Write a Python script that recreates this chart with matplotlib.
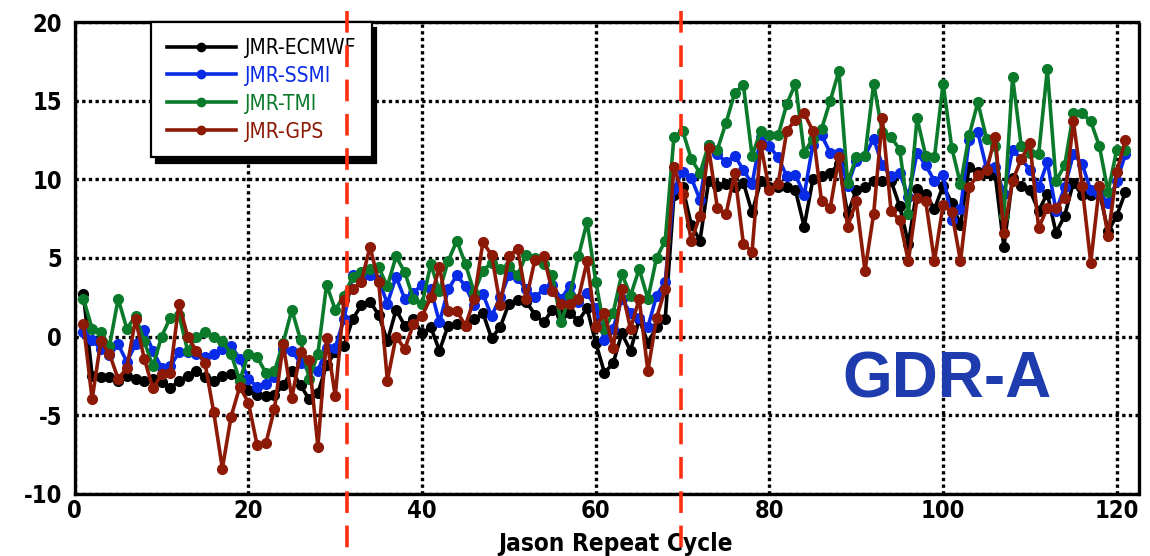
import matplotlib
matplotlib.use("Agg")
import matplotlib.pyplot as plt
from matplotlib.font_manager import FontProperties
import numpy as np

plt.rcParams["axes.unicode_minus"] = False

cycles = np.arange(1, 122)

ecmwf = [2.7, -2.5, -2.6, -2.6, -2.8, -2.5, -2.7, -2.8, -2.7, -2.9,
         -3.3, -2.8, -2.5, -2.2, -2.6, -2.8, -2.5, -2.4, -2.7, -3.4,
         -3.7, -3.8, -3.7, -3.1, -2.2, -3.1, -4.0, -3.6, -1.8, -1.0,
         -0.6, 1.1, 2.0, 2.2, 1.4, -0.3, 1.7, 0.7, 1.1, 0.2,
         0.6, -0.9, 0.7, 0.8, 0.7, 1.1, 1.5, -0.1, 0.6, 2.1,
         2.3, 2.2, 1.4, 0.9, 1.7, 1.4, 1.5, 1.0, 1.8, -0.4,
         -2.3, -1.7, 0.2, -0.9, 1.1, -0.4, 0.6, 1.1, 9.0, 9.5,
         7.1, 6.1, 9.9, 9.6, 9.7, 9.5, 9.8, 7.9, 9.9, 9.5,
         9.5, 9.5, 9.3, 7.0, 10.0, 10.2, 10.4, 11.0, 7.8, 9.3,
         9.5, 9.9, 9.9, 9.9, 8.3, 5.9, 9.4, 9.1, 8.1, 9.6,
         8.5, 7.1, 10.8, 10.5, 10.4, 10.3, 5.7, 10.1, 9.6, 9.3,
         8.0, 9.1, 6.6, 7.7, 9.8, 9.0, 9.0, 9.2, 6.7, 7.7,
         9.2]

ssmi = [0.3, -0.2, -0.8, -1.2, -0.5, -1.6, -0.5, 0.4, -0.9, -2.0,
        -1.9, -1.0, -1.0, -1.1, -1.3, -1.1, -0.8, -0.6, -1.4, -2.7,
        -3.2, -3.0, -2.6, -0.8, -0.9, -1.7, -1.9, -2.2, -0.7, -0.7,
        1.1, 3.9, 3.7, 3.9, 3.6, 2.1, 3.8, 2.4, 2.8, 3.3,
        3.0, 0.9, 3.0, 3.9, 3.2, 2.0, 2.7, 1.3, 2.5, 3.9,
        3.7, 3.0, 2.5, 3.0, 3.3, 2.4, 3.2, 2.2, 2.8, 1.8,
        -0.2, 0.5, 2.4, 1.5, 1.2, 0.6, 2.6, 3.5, 9.4, 10.5,
        10.1, 8.7, 12.2, 11.6, 11.1, 11.5, 10.6, 9.7, 12.7, 12.1,
        11.4, 10.2, 10.3, 9.0, 12.2, 12.8, 11.7, 11.7, 9.6, 11.2,
        11.5, 12.6, 10.9, 10.2, 10.4, 8.9, 11.7, 10.9, 9.9, 10.3,
        7.4, 8.1, 12.5, 13.0, 10.7, 10.8, 9.1, 11.9, 11.3, 10.6,
        9.5, 11.1, 8.0, 9.5, 11.6, 11.0, 9.3, 9.1, 8.5, 9.9,
        11.6]

tmi = [2.4, 0.5, 0.3, -0.6, 2.4, 0.5, 1.3, -0.3, -1.9, 0.0,
       1.2, 1.4, -0.9, 0.0, 0.3, 0.0, -0.3, -1.1, -2.8, -1.1,
       -1.3, -2.3, -2.2, -0.4, 1.7, -0.2, -2.7, -1.1, 3.3, 1.7,
       2.6, 3.8, 4.1, 4.3, 4.4, 3.2, 5.1, 4.1, 2.4, 2.1,
       4.6, 2.9, 4.8, 6.1, 4.6, 2.8, 4.2, 4.7, 4.3, 4.5,
       3.9, 5.2, 5.0, 4.6, 3.9, 0.9, 2.6, 5.1, 7.3, 3.5,
       0.5, 1.5, 4.0, 2.6, 4.3, 2.4, 5.0, 6.1, 12.7, 13.1,
       11.3, 10.4, 12.2, 11.9, 13.6, 15.5, 16.0, 11.5, 13.1, 12.8,
       12.8, 14.8, 16.1, 11.7, 12.6, 13.2, 15.0, 16.9, 9.8, 11.4,
       11.5, 16.1, 13.0, 12.7, 11.9, 7.8, 13.9, 11.5, 11.4, 16.1,
       12.0, 9.7, 12.8, 14.9, 12.6, 12.1, 7.7, 16.5, 12.1, 11.7,
       11.6, 17.0, 9.9, 10.9, 14.2, 14.2, 13.7, 12.1, 9.2, 11.9,
       11.9]

gps = [0.8, -4.0, -0.3, -1.1, -2.7, -2.0, 1.1, -1.4, -3.3, -2.4,
       -2.3, 2.1, 0.0, -0.9, -1.7, -4.8, -8.4, -5.1, -3.2, -4.2,
       -6.9, -6.8, -4.6, -0.5, -3.9, -1.0, -1.5, -7.0, -0.1, -3.8,
       2.3, 3.0, 3.5, 5.7, 3.5, -2.8, 0.0, -0.8, 0.8, 1.3,
       2.5, 4.4, 1.6, 1.6, 0.7, 2.4, 6.0, 5.2, 2.0, 5.1,
       5.6, 2.4, 4.9, 5.1, 2.9, 2.1, 2.1, 2.4, 4.8, 0.6,
       1.5, -0.7, 3.0, 0.5, 2.4, -2.2, 1.2, 3.0, 10.8, 9.1,
       6.1, 7.7, 12.0, 8.2, 7.8, 10.4, 5.9, 5.4, 12.2, 9.3,
       9.7, 13.1, 13.8, 14.2, 13.1, 8.6, 8.2, 11.4, 7.0, 8.6,
       4.2, 7.8, 13.9, 8.0, 7.4, 4.8, 8.8, 8.6, 4.8, 8.4,
       7.9, 4.8, 9.5, 10.3, 10.6, 12.7, 6.6, 9.9, 11.3, 12.3,
       6.9, 8.2, 8.2, 8.8, 13.7, 9.6, 4.7, 9.6, 6.4, 10.5,
       12.5]

series_names = ["JMR-ECMWF", "JMR-SSMI", "JMR-TMI", "JMR-GPS"]
series_colors = ["#000000", "#0a2be6", "#0b7a2b", "#8c1a06"]
event_cycles = [31.4, 69.8]

xticks = [0, 20, 40, 60, 80, 100, 120]
yticks = [-10, -5, 0, 5, 10, 15, 20]

tick_fp = FontProperties(family="DejaVu Sans", stretch="condensed", weight="bold", size=17)
label_fp = FontProperties(family="DejaVu Sans", stretch="condensed", weight="bold", size=17.5)

fig = plt.figure(figsize=(11.5, 5.56), dpi=100)
ax = fig.add_axes([0.065, 0.112, 0.925, 0.848])

for vals, name, col in zip([ecmwf, ssmi, tmi, gps], series_names, series_colors):
    ax.plot(cycles, vals, color=col, lw=2.6, marker="o", ms=7, label=name)

ax.set_xlim(0, 122.5)
ax.set_ylim(-10, 20)
ax.set_xticks(xticks)
ax.set_yticks(yticks)
ax.tick_params(axis="x", length=0, pad=4)
ax.tick_params(axis="y", length=0, pad=9)
for lab in ax.get_xticklabels() + ax.get_yticklabels():
    lab.set_fontproperties(tick_fp)

ax.grid(True, color="black", lw=2.4, linestyle=(0, (1, 1)))
ax.set_axisbelow(True)
for sp in ax.spines.values():
    sp.set_linestyle((0, (1, 1)))
    sp.set_linewidth(2.4)

ax.set_xlabel("Jason Repeat Cycle", fontproperties=label_fp)
ax.xaxis.set_label_coords(0.508, -0.082)

leg = ax.legend(loc="upper left", bbox_to_anchor=(0.072, 1.0), borderaxespad=0,
                frameon=True, fancybox=False,
                shadow={"color": "black", "alpha": 1, "ox": 3, "oy": -4},
                numpoints=1, handlelength=3.3, handletextpad=0.45,
                labelspacing=0.38, borderpad=0.75,
                labelcolor="linecolor",
                prop=FontProperties(family="DejaVu Sans", stretch="condensed", size=15))
leg.get_frame().set_edgecolor("black")
leg.get_frame().set_linewidth(1.6)
for h in leg.legend_handles:
    h.set_markersize(6)

for xc in event_cycles:
    ax.plot([xc, xc], [20.7, -13.9], color="#ff3010", lw=2.6, linestyle=(0, (6, 3.5)),
            clip_on=False, zorder=10)

ax.text(0.82, 0.24, "GDR-A", transform=ax.transAxes, ha="center", va="center",
        fontsize=46, fontweight="bold", color="#1f3cae",
        family=["Liberation Sans", "DejaVu Sans"])

fig.savefig("out.png", dpi=100)
